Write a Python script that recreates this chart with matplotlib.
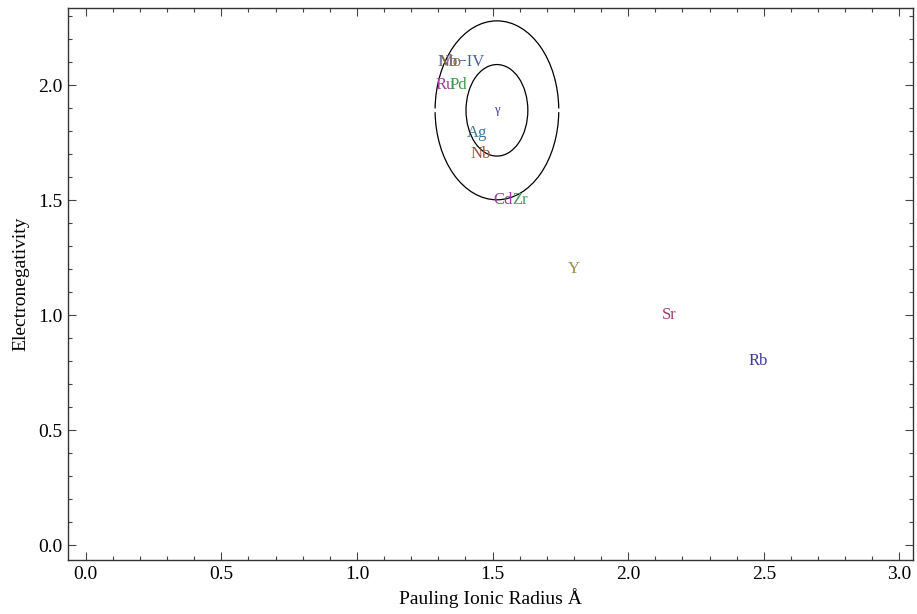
import matplotlib.pyplot as plt
from matplotlib.patches import Ellipse, Arc
from matplotlib.ticker import MultipleLocator

plt.rcParams['font.family'] = ['Liberation Serif', 'DejaVu Serif']

# element labels placed at (radius, electroneg)
labels = ["Rb", "Sr", "Y", "Zr", "Cd", "Nb", "Ag", "Ru", "Pd", "Nb\u2212IV", "Mo", "\u03b3"]
radius = [2.48, 2.15, 1.80, 1.60, 1.54, 1.455, 1.443, 1.327, 1.375, 1.384, 1.343, 1.516]
electroneg = [0.80, 1.00, 1.20, 1.50, 1.50, 1.70, 1.79, 2.00, 2.00, 2.10, 2.10, 1.89]
colors = [(0.247, 0.24, 0.6), (0.6, 0.24, 0.443), (0.6, 0.547, 0.24), (0.24, 0.6, 0.337),
          (0.6, 0.24, 0.64), (0.6, 0.337, 0.24), (0.24, 0.473, 0.6), (0.6, 0.24, 0.6),
          (0.24, 0.6, 0.3), (0.28, 0.38, 0.66), (0.6, 0.43, 0.24), (0.247, 0.24, 0.6)]
sizes = [12, 12, 12, 12, 12, 12, 12, 12, 12, 12, 12, 9]

# rings around gamma
center = (1.516, 1.89)
ring_w = [0.228, 0.456]
ring_h = [0.398, 0.778]

fig = plt.figure(figsize=(9.17, 6.14), dpi=100)
ax = fig.add_axes([0.074, 0.088, 0.9216, 0.899])

for lab, x, y, c, s in zip(labels, radius, electroneg, colors, sizes):
    ax.text(x, y, lab, color=c, fontsize=s, ha='center', va='center')

ax.add_patch(Ellipse(center, ring_w[0], ring_h[0], fill=False, ec='black', lw=0.9))
ax.add_patch(Arc(center, ring_w[1], ring_h[1], theta1=2, theta2=178, ec='black', lw=0.9))
ax.add_patch(Arc(center, ring_w[1], ring_h[1], theta1=182, theta2=358, ec='black', lw=0.9))

ax.set_xlim(-0.066, 3.05)
ax.set_ylim(-0.065, 2.335)
ax.xaxis.set_major_locator(MultipleLocator(0.5))
ax.xaxis.set_minor_locator(MultipleLocator(0.1))
ax.yaxis.set_major_locator(MultipleLocator(0.5))
ax.yaxis.set_minor_locator(MultipleLocator(0.1))
ax.xaxis.set_major_formatter(plt.FormatStrFormatter('%.1f'))
ax.yaxis.set_major_formatter(plt.FormatStrFormatter('%.1f'))
ax.tick_params(which='both', direction='in', top=True, right=True, labelsize=14,
               color='#444444', width=0.8)
ax.tick_params(which='major', length=6, pad=4)
ax.tick_params(which='minor', length=3)
for sp in ax.spines.values():
    sp.set_color('#333333')
    sp.set_linewidth(1.0)

ax.set_xlabel("Pauling Ionic Radius \u00c5", fontsize=14, labelpad=4)
ax.set_ylabel("Electronegativity", fontsize=14, labelpad=6)

fig.savefig("out.png", dpi=100)
